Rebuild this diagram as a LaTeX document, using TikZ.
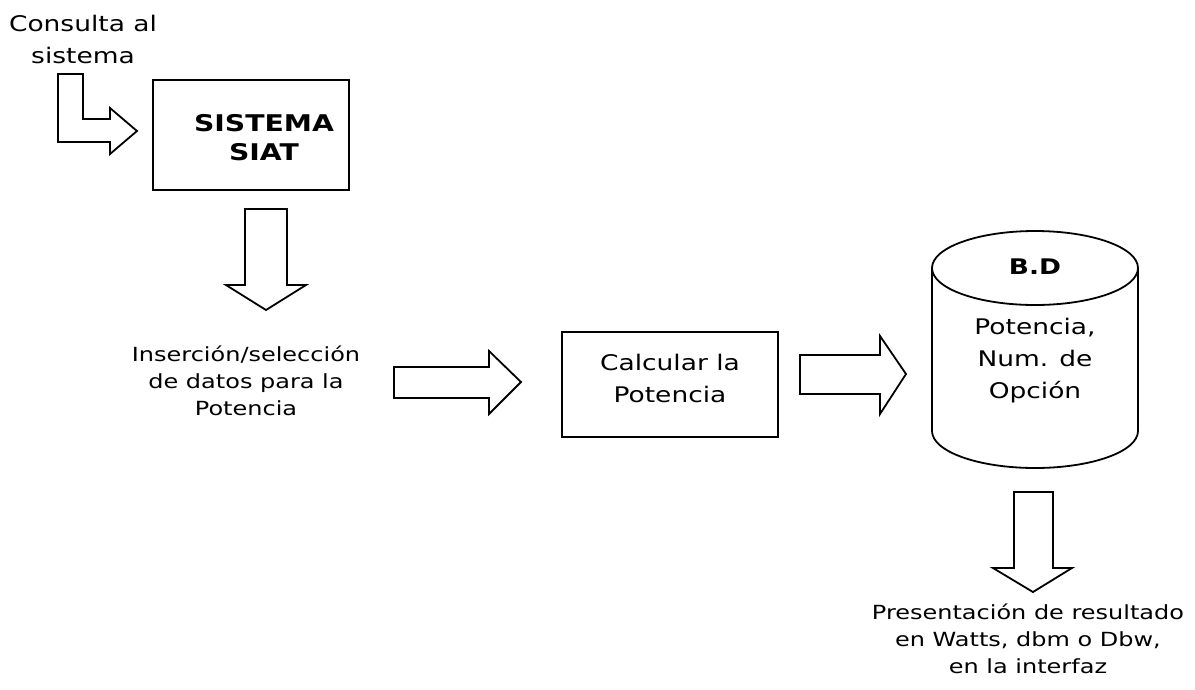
\documentclass[tikz,border=0pt]{standalone}
\usepackage{fontspec}
\setmainfont{DejaVu Sans}[FakeStretch=1.23]
\newfontfamily\boldwide{DejaVu Sans Bold}[FakeStretch=1.23]
\begin{document}
\begin{tikzpicture}[x=1pt,y=-1pt,
  line/.style={draw=black,line width=1.8pt,line join=miter},
  blockarrow/.style={line,fill=white},
  lbl/.style={align=center,inner sep=0pt,font=\fontsize{19.5}{27}\selectfont},
  big/.style={align=center,inner sep=0pt,font=\fontsize{21.5}{32}\selectfont},
  bigbold/.style={align=center,inner sep=0pt,font=\boldwide\fontsize{23}{29}\selectfont}]
\useasboundingbox[fill=white] (0,0) rectangle (1195,689);

% entry label and bent arrow into the system
\node[big] (consulta) at (83,39) {Consulta al\\sistema};
\draw[blockarrow] (58,74) -- (83,74) -- (83,119) -- (110,119) -- (110,108)
  -- (137,131) -- (110,154) -- (110,142) -- (58,142) -- cycle;

% SIAT system box
\draw[line] (153,80) rectangle (349,190);
\node[bigbold] (siattext) at (264,138) {SISTEMA\\SIAT};

% down arrow towards data entry
\draw[blockarrow] (245,209) -- (287,209) -- (287,285) -- (306,285) -- (266,310)
  -- (226,285) -- (245,285) -- cycle;
\node[lbl] (datos) at (246,381) {Inserción/selección\\de datos para la\\Potencia};

% arrow into the computation
\draw[blockarrow] (394,367) -- (489,367) -- (489,351) -- (521,382) -- (489,414)
  -- (489,398) -- (394,398) -- cycle;

% computation box
\draw[line] (562,332) rectangle (778,437);
\node[big] (calc) at (670,378) {Calcular la\\Potencia};

% arrow into the database
\draw[blockarrow] (800,355) -- (880,355) -- (880,336) -- (906,374) -- (880,414)
  -- (880,394) -- (800,394) -- cycle;

% database cylinder
\draw[line] (932,268) -- (932,431) arc[start angle=180,end angle=360,x radius=103,y radius=-37]
  -- (1138,268);
\draw[line] (1035,268) ellipse[x radius=103,y radius=37];
\node[font=\boldwide\fontsize{21.5}{32}\selectfont,inner sep=0pt] (bd) at (1035,267) {B.D};
\node[big] (bdtext) at (1035,361) {Potencia,\\Num. de\\Opción};

% output arrow and result label
\draw[blockarrow] (1014,492) -- (1053,492) -- (1053,568) -- (1072,568) -- (1033,592)
  -- (993,568) -- (1014,568) -- cycle;
\node[lbl] (result) at (1028,639) {Presentación de resultado\\en Watts, dbm o Dbw,\\en la interfaz};
\end{tikzpicture}
\end{document}
